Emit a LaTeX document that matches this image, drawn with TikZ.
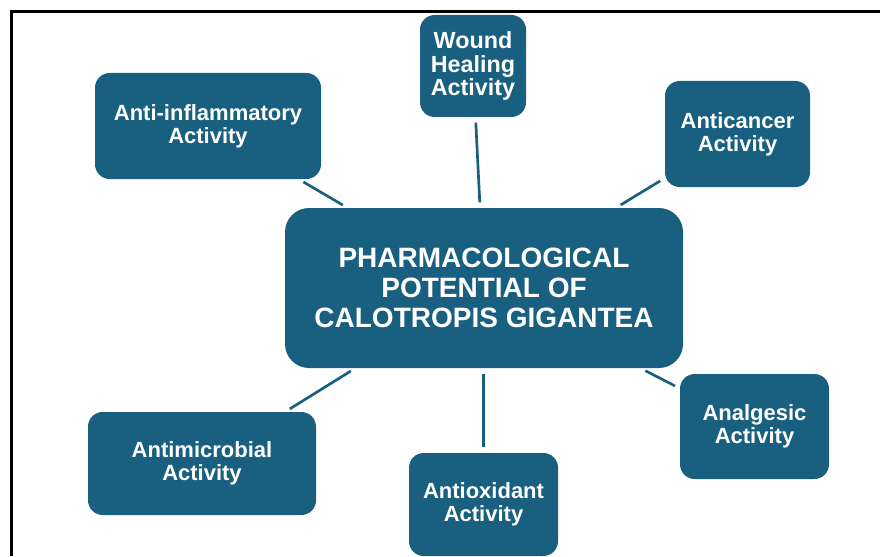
\documentclass[tikz,border=0pt]{standalone}
\usepackage{fontspec}
\setmainfont{Liberation Sans}
\usetikzlibrary{positioning}
\definecolor{potential}{RGB}{24,95,128}

\begin{document}
\begin{tikzpicture}[
    x=0.75pt, y=-0.75pt,
    actbox/.style={rectangle, rounded corners=11pt, fill=potential, text=white, align=center, inner sep=2pt, font=\fontsize{16.5}{17.3}\selectfont\bfseries},
    hubbox/.style={rectangle, rounded corners=18pt, fill=potential, text=white, align=center, font=\fontsize{21}{22.5}\selectfont\bfseries},
    link/.style={draw=potential, line width=2pt, shorten >=4pt, shorten <=4pt},
]
\useasboundingbox (0,0) rectangle (880,556);

% Frame
\draw[line width=2.4pt] (880,11.5) -- (11.5,11.5) -- (11.5,556);

% Central node
\node[hubbox, minimum width=298.5pt, minimum height=120pt] (hub) at (484,288) {PHARMACOLOGICAL\\POTENTIAL OF\\CALOTROPIS GIGANTEA};

% Activities
\node[actbox, minimum width=169.5pt, minimum height=79.5pt] (inflam) at (208,126) {Anti-inflammatory\\Activity};
\node[actbox, minimum width=79.5pt, minimum height=76.5pt, font=\fontsize{17.5}{17.3}\selectfont\bfseries] (wound) at (473,66) {Wound\\Healing\\Activity};
\node[actbox, minimum width=108.75pt, minimum height=79.5pt] (cancer) at (737.5,134) {Anticancer\\Activity};
\node[actbox, minimum width=171pt, minimum height=77.25pt] (microb) at (202,463.5) {Antimicrobial\\Activity};
\node[actbox, minimum width=111.75pt, minimum height=77.25pt] (oxid) at (483.5,504.5) {Antioxidant\\Activity};
\node[actbox, minimum width=111.75pt, minimum height=78.75pt] (analg) at (754.5,426.5) {Analgesic\\Activity};

% Links
\draw[link] (inflam) -- (hub);
\draw[link] (wound) -- (hub);
\draw[link] (cancer) -- (hub);
\draw[link] (microb) -- (hub);
\draw[link] (oxid.north) -- (oxid.north |- hub.south);
\draw[link] (analg) -- (hub);

\end{tikzpicture}
\end{document}
